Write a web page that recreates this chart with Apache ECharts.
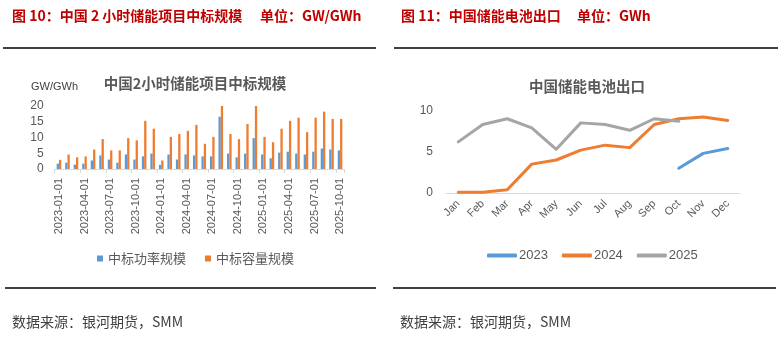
<!DOCTYPE html>
<html>
<head>
<meta charset="utf-8">
<script src="https://cdn.jsdelivr.net/npm/echarts@6/dist/echarts.min.js"></script>
<style>html,body{margin:0;padding:0;background:#fff;}#c{width:784px;height:347px;}</style>
</head>
<body>
<div id="c"></div>
<script>
const months = ['2023-01-01','2023-02-01','2023-03-01','2023-04-01','2023-05-01','2023-06-01','2023-07-01','2023-08-01','2023-09-01','2023-10-01','2023-11-01','2023-12-01',
'2024-01-01','2024-02-01','2024-03-01','2024-04-01','2024-05-01','2024-06-01','2024-07-01','2024-08-01','2024-09-01','2024-10-01','2024-11-01','2024-12-01',
'2025-01-01','2025-02-01','2025-03-01','2025-04-01','2025-05-01','2025-06-01','2025-07-01','2025-08-01','2025-09-01','2025-10-01'];
const powerGW = [1.7,2.0,1.4,1.7,2.7,4.3,3.0,2.0,4.6,3.0,4.0,4.9,1.3,4.6,3.0,4.6,4.3,4.0,4.0,16.6,4.9,3.7,4.9,9.8,4.6,3.4,5.2,5.5,4.9,4.6,5.5,6.5,6.2,5.9];
const capacityGWh = [2.9,4.6,3.7,4.0,6.2,9.5,5.9,5.9,9.8,9.1,15.3,12.8,2.7,10.2,11.1,12.1,14.0,8.0,10.2,20.0,11.1,9.5,14.3,20.0,10.2,8.5,12.8,15.3,16.3,11.7,16.3,18.2,15.9,15.9];
const leftTicks = [0,5,10,15,20];

const monthNames = ['Jan','Feb','Mar','Apr','May','Jun','Jul','Aug','Sep','Oct','Nov','Dec'];
const export2023 = [null,null,null,null,null,null,null,null,null,3.0,4.8,5.4];
const export2024 = [0.1,0.1,0.4,3.5,4.0,5.2,5.8,5.5,8.3,9.0,9.2,8.8];
const export2025 = [6.2,8.3,9.0,7.9,5.3,8.5,8.3,7.6,9.0,8.7,null,null];
const rightTicks = [0,5,10];

const CJK = '"Noto Sans CJK SC", sans-serif';
const LAT = '"Liberation Sans", "Noto Sans CJK SC", sans-serif';
const txt = '#595959';

const chart = echarts.init(document.getElementById('c'), null, {renderer:'canvas'});
chart.setOption({
  animation: false,
  backgroundColor: '#fff',
  textStyle: {fontFamily: CJK},
  title: [
    {text: '中国2小时储能项目中标规模', left: 190, textAlign: 'center', top: 71,
     textStyle: {fontSize: 14.5, fontWeight: 'bold', color: txt, fontFamily: CJK}},
    {text: '中国储能电池出口', left: 582, textAlign: 'center', top: 74,
     textStyle: {fontSize: 14.5, fontWeight: 'bold', color: txt, fontFamily: CJK}}
  ],
  legend: [
    {data: ['中标功率规模','中标容量规模'], left: 92, top: 247, itemWidth: 6, itemHeight: 6,
     icon: 'rect', itemGap: 19, textStyle: {fontSize: 13, color: txt, fontFamily: CJK}},
    {data: ['2023','2024','2025'], left: 482, top: 244, itemWidth: 30, itemHeight: 4,
     icon: 'roundRect', itemGap: 14, textStyle: {fontSize: 13, color: txt, fontFamily: LAT, padding:[0,0,0,-3]}}
  ],
  grid: [
    {left: 54.7, width: 289.6, top: 106, height: 63},
    {left: 446, width: 294, top: 110.5, height: 82.5}
  ],
  xAxis: [
    {type: 'category', gridIndex: 0, data: months, boundaryGap: true,
     axisLine: {lineStyle: {color: '#d9d9d9'}},
     axisTick: {show: true, interval: 2, length: 4, lineStyle: {color: '#d9d9d9'}},
     axisLabel: {interval: 2, rotate: 90, fontSize: 11, color: txt, margin: 9, fontFamily: LAT}},
    {type: 'category', gridIndex: 1, data: monthNames, boundaryGap: true,
     axisLine: {lineStyle: {color: '#d9d9d9'}},
     axisTick: {show: false},
     axisLabel: {interval: 0, rotate: 45, fontSize: 11, color: txt, margin: 9, fontFamily: LAT}}
  ],
  yAxis: [
    {type: 'value', gridIndex: 0, min: leftTicks[0], max: leftTicks[leftTicks.length-1], interval: 5,
     splitLine: {show: false}, axisLine: {show: false}, axisTick: {show: false},
     axisLabel: {fontSize: 12, color: txt, margin: 11, fontFamily: LAT}},
    {type: 'value', gridIndex: 1, min: rightTicks[0], max: rightTicks[rightTicks.length-1], interval: 5,
     splitLine: {show: false}, axisLine: {show: false}, axisTick: {show: false},
     axisLabel: {fontSize: 12, color: txt, margin: 13, fontFamily: LAT}}
  ],
  series: [
    {name: '中标功率规模', type: 'bar', xAxisIndex: 0, yAxisIndex: 0, data: powerGW,
     barWidth: 2.3, barGap: '0%', itemStyle: {color: '#5b9bd5'}},
    {name: '中标容量规模', type: 'bar', xAxisIndex: 0, yAxisIndex: 0, data: capacityGWh,
     barWidth: 2.3, barGap: '0%', itemStyle: {color: '#ed7d31'}},
    {name: '2023', type: 'line', xAxisIndex: 1, yAxisIndex: 1, data: export2023, symbol: 'none',
     itemStyle: {color: '#5b9bd5'}, lineStyle: {width: 3, color: '#5b9bd5', cap: 'round', join: 'round'}},
    {name: '2024', type: 'line', xAxisIndex: 1, yAxisIndex: 1, data: export2024, symbol: 'none',
     itemStyle: {color: '#ed7d31'}, lineStyle: {width: 3, color: '#ed7d31', cap: 'round', join: 'round'}},
    {name: '2025', type: 'line', xAxisIndex: 1, yAxisIndex: 1, data: export2025, symbol: 'none',
     itemStyle: {color: '#a5a5a5'}, lineStyle: {width: 3, color: '#a5a5a5', cap: 'round', join: 'round'}}
  ],
  graphic: [
    {type: 'text', left: 12, top: 9, style: {text: '图 10：中国 2 小时储能项目中标规模', fontSize: 14, fontWeight: 'bold', fill: '#c00000', fontFamily: CJK}},
    {type: 'text', left: 260, top: 9, style: {text: '单位：GW/GWh', fontSize: 14, fontWeight: 'bold', fill: '#c00000', fontFamily: CJK}},
    {type: 'text', left: 401, top: 9, style: {text: '图 11：中国储能电池出口', fontSize: 14, fontWeight: 'bold', fill: '#c00000', fontFamily: CJK}},
    {type: 'text', left: 577, top: 9, style: {text: '单位：GWh', fontSize: 14, fontWeight: 'bold', fill: '#c00000', fontFamily: CJK}},
    {type: 'line', shape: {x1: 3, y1: 48, x2: 376, y2: 48}, style: {stroke: '#000', lineWidth: 1.3}},
    {type: 'line', shape: {x1: 394, y1: 48, x2: 778, y2: 48}, style: {stroke: '#000', lineWidth: 1.3}},
    {type: 'line', shape: {x1: 5, y1: 288, x2: 376, y2: 288}, style: {stroke: '#000', lineWidth: 1.3}},
    {type: 'line', shape: {x1: 393, y1: 288, x2: 776, y2: 288}, style: {stroke: '#000', lineWidth: 1.3}},
    {type: 'text', left: 31, top: 81, style: {text: 'GW/GWh', fontSize: 11, fill: '#404040', fontFamily: LAT}},
    {type: 'text', left: 12, top: 315, style: {text: '数据来源：银河期货，SMM', fontSize: 14, fill: '#404040', fontFamily: CJK}},
    {type: 'text', left: 400, top: 315, style: {text: '数据来源：银河期货，SMM', fontSize: 14, fill: '#404040', fontFamily: CJK}}
  ]
});
</script>
</body>
</html>
